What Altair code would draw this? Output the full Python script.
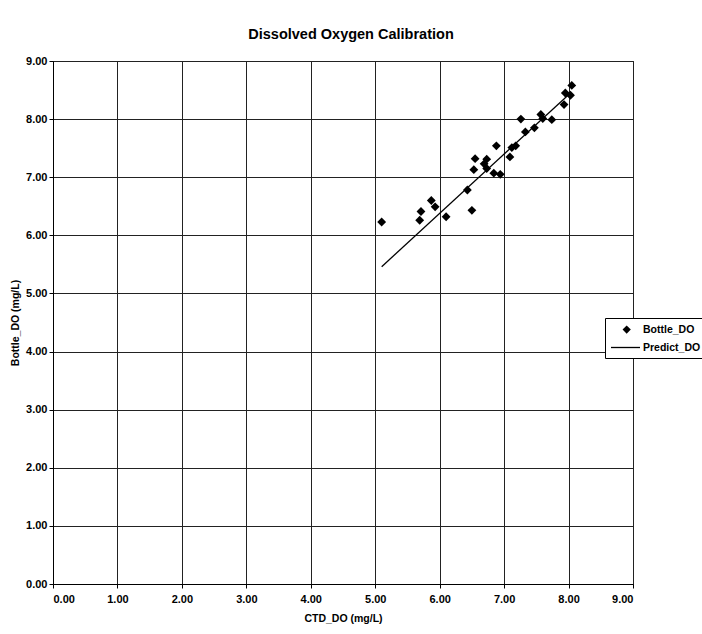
import altair as alt
import pandas as pd

# CTD sensor readings vs. Winkler bottle titrations (mg/L)
ctd_do = [5.10, 5.69, 5.71, 5.87, 5.93, 6.10, 6.43, 6.50, 6.53, 6.55,
          6.69, 6.73, 6.73, 6.84, 6.88, 6.94, 7.09, 7.12, 7.18, 7.26,
          7.33, 7.47, 7.57, 7.60, 7.74, 7.93, 7.95, 8.03, 8.05]
bottle_do = [6.23, 6.26, 6.41, 6.60, 6.49, 6.32, 6.78, 6.43, 7.13, 7.32,
             7.23, 7.31, 7.15, 7.07, 7.54, 7.05, 7.35, 7.51, 7.54, 8.00,
             7.78, 7.85, 8.08, 8.01, 7.99, 8.25, 8.45, 8.41, 8.58]

# regression line end points
line_ctd = [5.10, 8.03]
predict_do = [5.46, 8.45]

series = ["Bottle_DO", "Predict_DO"]
ticks = [0, 1, 2, 3, 4, 5, 6, 7, 8, 9]

FONT = "Liberation Sans"

pts = pd.DataFrame({"CTD_DO": ctd_do, "Bottle_DO": bottle_do})
fit = pd.DataFrame({"CTD_DO": line_ctd, "Predict_DO": predict_do})
keys = pd.DataFrame({"series": series})

xscale = alt.Scale(domain=[0, 9], nice=False, zero=False)
yscale = alt.Scale(domain=[0, 9], nice=False, zero=False)

xaxis = alt.Axis(values=ticks, format=".2f", title="CTD_DO (mg/L)",
                 tickSize=4, labelPadding=5, titlePadding=9)
yaxis = alt.Axis(values=ticks, format=".2f", title="Bottle_DO (mg/L)",
                 tickSize=4, labelPadding=2, titlePadding=5)

points = alt.Chart(pts).mark_point(
    shape="diamond", filled=True, color="black", size=78, opacity=1
).encode(
    x=alt.X("CTD_DO:Q", scale=xscale, axis=xaxis),
    y=alt.Y("Bottle_DO:Q", scale=yscale, axis=yaxis),
)

line = alt.Chart(fit).mark_line(color="black", strokeWidth=1.3).encode(
    x=alt.X("CTD_DO:Q", scale=xscale),
    y=alt.Y("Predict_DO:Q", scale=yscale),
)

# legend carrier: symbols drawn outside the clipped plot area
diamond_path = "M1.85,-0.75L2.6,0L1.85,0.75L1.1,0Z"
stroke_path = "M-1,-0.12L4.27,-0.12L4.27,0.12L-1,0.12Z"
legend_keys = alt.Chart(keys).mark_point(
    clip=True, filled=True, color="black", size=121, opacity=1
).encode(
    x=alt.value(-80),
    y=alt.value(-80),
    shape=alt.Shape(
        "series:N",
        scale=alt.Scale(domain=series, range=[diamond_path, stroke_path]),
        legend=alt.Legend(
            title=None, orient="none", legendX=552, legendY=257,
            strokeColor="black", fillColor="white", padding=5,
            cornerRadius=0, rowPadding=4, labelOffset=20,
            symbolSize=121, symbolFillColor="black",
            labelFont=FONT, labelFontSize=10.5, labelFontWeight="bold",
            labelColor="black",
        ),
    ),
)

chart = alt.layer(line, points, legend_keys).properties(
    width=580,
    height=523,
    title=alt.Title(
        "Dissolved Oxygen Calibration", font=FONT, fontSize=14.5,
        fontWeight="bold", color="black", anchor="middle", frame="group",
        offset=13, dx=8,
    ),
    padding={"left": 53, "top": 61, "right": 69, "bottom": 50},
    autosize=alt.AutoSizeParams(type="none"),
).configure(
    background="white",
).configure_view(
    stroke="black", strokeWidth=1,
).configure_axis(
    labelFont=FONT, labelFontSize=11, labelFontWeight="bold",
    labelColor="black", titleFont=FONT, titleFontSize=10.5,
    titleFontWeight="bold", titleColor="black",
    domainColor="black", domainWidth=1, tickColor="black", tickWidth=1,
    gridColor="#222222", gridWidth=1, gridOpacity=1, grid=True,
)

chart.save("out.html", embed_options={"renderer": "svg", "actions": False})
